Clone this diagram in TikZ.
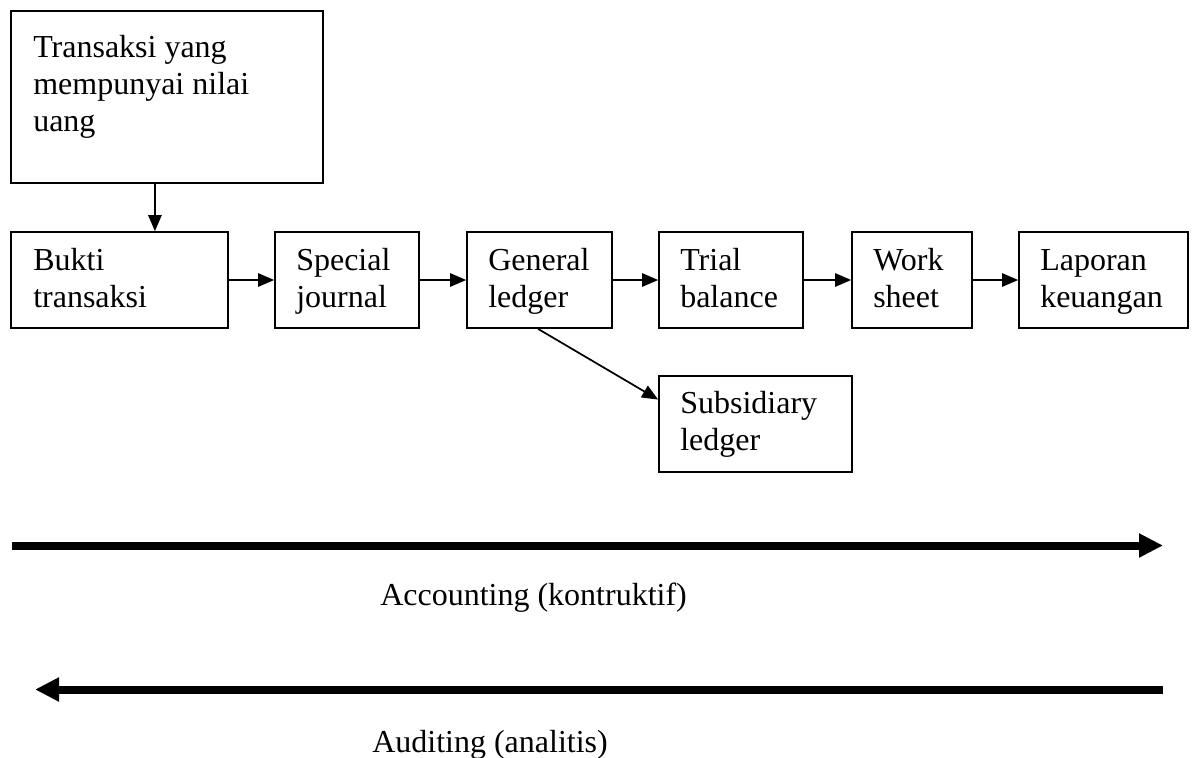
\documentclass[tikz,border=0pt]{standalone}
\usepackage{fontspec}
\setmainfont{Liberation Serif}
\usetikzlibrary{arrows.meta,fit,calc}
\begin{document}
\begin{tikzpicture}[x=0.75pt,y=-0.75pt,
  box/.style={draw,line width=1.3pt,inner sep=0pt},
  lbl/.style={anchor=base west,inner sep=0pt,font=\fontsize{24}{27.4}\selectfont,align=left},
  conn/.style={line width=1.3pt,-{Triangle[length=12pt,width=10pt]}},
  big/.style={line width=6pt,-{Triangle[length=18pt,width=17pt]}}]
\useasboundingbox (0,0) rectangle (1195,757);
% boxes
\node[box,fit={(11,11)(323,183)}] (top) {};
\node[box,fit={(11,232)(228,328)}] (bukti) {};
\node[box,fit={(275,232)(419,328)}] (special) {};
\node[box,fit={(467,232)(612,328)}] (general) {};
\node[box,fit={(659,232)(803,328)}] (trial) {};
\node[box,fit={(852,232)(972,328)}] (work) {};
\node[box,fit={(1019,232)(1188,328)}] (laporan) {};
\node[box,fit={(659,376)(852,472)}] (subsid) {};
% texts (anchor at baseline of the last line)
\node[lbl] (ttop) at (33,131) {Transaksi yang\\mempunyai nilai\\uang};
\node[lbl] (tbukti) at (33,307) {Bukti\\transaksi};
\node[lbl] (tspecial) at (296,307) {Special\\journal};
\node[lbl] (tgeneral) at (488,307) {General\\ledger};
\node[lbl] (ttrial) at (680,307) {Trial\\balance};
\node[lbl] (twork) at (873,307) {Work\\sheet};
\node[lbl] (tlaporan) at (1040,307) {Laporan\\keuangan};
\node[lbl] (tsubsid) at (680,450) {Subsidiary\\ledger};
% connectors
\draw[conn] ($(top.south west)!0.4615!(top.south east)$) coordinate (d) -- (d |- bukti.north);
\draw[conn] (bukti.east) -- (special.west);
\draw[conn] (special.east) -- (general.west);
\draw[conn] (general.east) -- (trial.west);
\draw[conn] (trial.east) -- (work.west);
\draw[conn] (work.east) -- (laporan.west);
\draw[conn] ($(general.south west)!0.49!(general.south east)$) -- ($(subsid.north west)!0.25!(subsid.south west)$);
% big arrows
\coordinate (accL) at (12,545.5);
\coordinate (accR) at (1163,545.5);
\coordinate (audR) at (1163,689.5);
\coordinate (audL) at (35,689.5);
\draw[big] (accL) -- (accR);
\draw[big] (audR) -- (audL);
\node[lbl] (acc) at (380,605) {Accounting (kontruktif)};
\node[lbl] (aud) at (372,752) {Auditing (analitis)};
\end{tikzpicture}
\end{document}
